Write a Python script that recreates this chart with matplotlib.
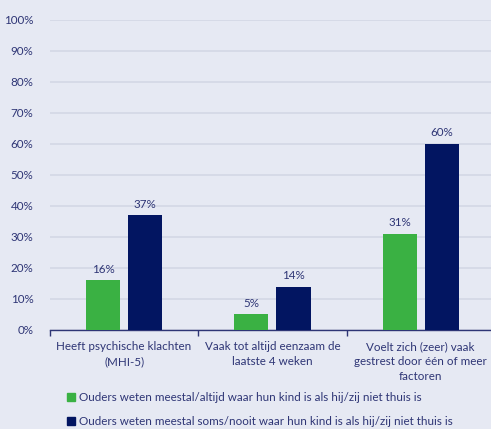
import matplotlib
matplotlib.use("Agg")
import matplotlib.pyplot as plt
import numpy as np
from matplotlib.patches import Patch

categories = [
    "Heeft psychische klachten\n(MHI-5)",
    "Vaak tot altijd eenzaam de\nlaatste 4 weken",
    "Voelt zich (zeer) vaak\ngestrest door één of meer\nfactoren",
]
series_names = [
    "Ouders weten meestal/altijd waar hun kind is als hij/zij niet thuis is",
    "Ouders weten meestal soms/nooit waar hun kind is als hij/zij niet thuis is",
]
weet_wel = [16, 5, 31]
weet_niet = [37, 14, 60]
y_ticks = [0, 10, 20, 30, 40, 50, 60, 70, 80, 90, 100]

BG = "#E6E9F3"
TEXT = "#2E3575"
GREEN = "#3AB143"
NAVY = "#021561"
GRID = "#D3D7E5"
FS = 8.4

plt.rcParams["font.family"] = ["Lato", "DejaVu Sans"]

fig = plt.figure(figsize=(4.91, 4.29), dpi=100, facecolor=BG)
ax = fig.add_axes([0.1018, 0.2308, 0.906, 0.7226], facecolor=BG)

x = np.arange(len(categories))
w = 0.23
off = 0.142
b1 = ax.bar(x - off, weet_wel, w, color=GREEN, zorder=3)
b2 = ax.bar(x + off, weet_niet, w, color=NAVY, zorder=3)

for bars, vals in ((b1, weet_wel), (b2, weet_niet)):
    for bar, v in zip(bars, vals):
        ax.annotate(f"{v}%", (bar.get_x() + bar.get_width() / 2, v),
                    xytext=(0, 4), textcoords="offset points",
                    ha="center", va="bottom", fontsize=FS, color=TEXT)

ax.set_xlim(-0.5, 2.5)
ax.set_ylim(0, 100)
ax.set_yticks(y_ticks)
ax.set_yticklabels([f"{t}%" for t in y_ticks])
ax.yaxis.grid(True, color=GRID, linewidth=1.2, zorder=0)
ax.tick_params(axis="y", length=0, pad=12, labelsize=FS, labelcolor=TEXT)

ax.set_xticks(x)
ax.set_xticklabels(categories, fontsize=FS, color=TEXT, linespacing=1.45)
ax.tick_params(axis="x", length=0, pad=8)
ax.set_xticks([-0.5, 0.5, 1.5], minor=True)
ax.tick_params(axis="x", which="minor", length=4, color=TEXT, width=1)

for s in ("left", "right", "top"):
    ax.spines[s].set_visible(False)
ax.spines["bottom"].set_color(TEXT)
ax.spines["bottom"].set_linewidth(1)

handles = [Patch(color=GREEN), Patch(color=NAVY)]
fig.legend(handles, series_names, loc="lower left", bbox_to_anchor=(0.115, -0.02),
           frameon=False, fontsize=FS, labelcolor=TEXT, handlelength=0.7,
           handleheight=0.7, handletextpad=0.3, labelspacing=1.1)

fig.savefig("out.png", dpi=100, facecolor=BG)
